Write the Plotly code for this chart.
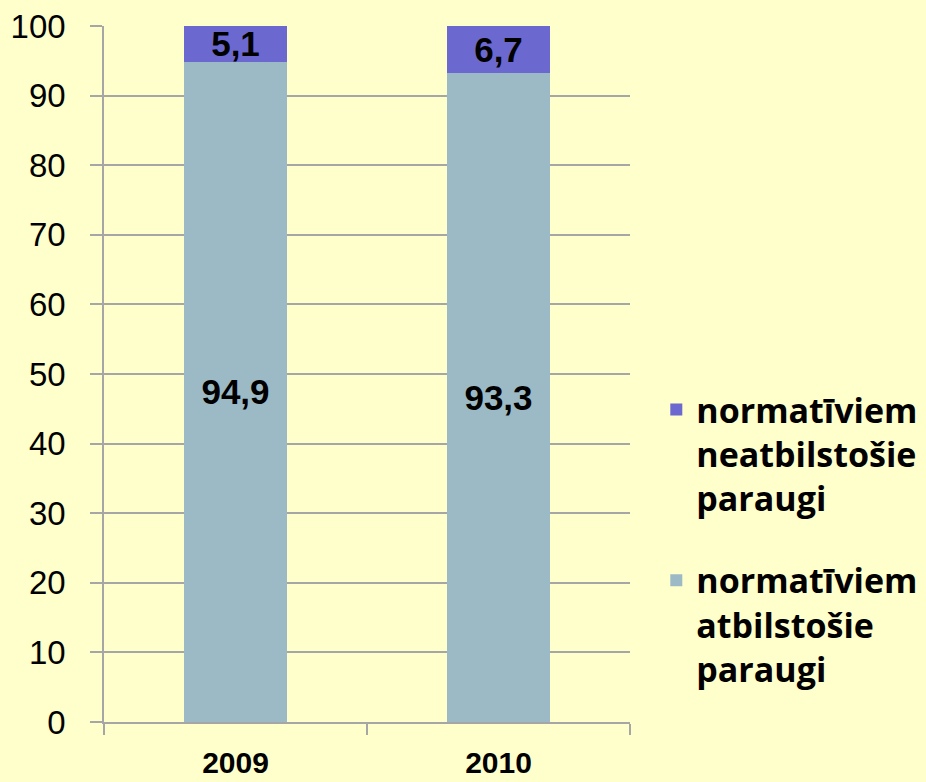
import plotly.graph_objects as go

years = ["2009", "2010"]
atbilstosie = [94.9, 93.3]
neatbilstosie = [5.1, 6.7]
name_atb = "normatīviem<br>atbilstošie<br>paraugi"
name_neatb = "normatīviem<br>neatbilstošie<br>paraugi"
y_ticks = [0, 10, 20, 30, 40, 50, 60, 70, 80, 90, 100]

BG = "#FFFFCC"
GRID = "#A6A6A6"
LABEL_FONT = dict(family="Liberation Sans, Arial", size=35, color="black")

fig = go.Figure()
fig.add_trace(go.Bar(
    x=years, y=atbilstosie, name=name_atb, legendgroup="a", legendrank=2,
    marker=dict(color="#9BBAC5", line=dict(width=0)),
    texttemplate="<b>%{y:.1f}</b>", textposition="inside",
    insidetextanchor="middle", constraintext="none",
    textfont=LABEL_FONT,
))
fig.add_trace(go.Bar(
    x=years, y=neatbilstosie, name=name_neatb, legendgroup="b", legendrank=1,
    marker=dict(color="#6B69D0", line=dict(width=0)),
    texttemplate="<b>%{y:.1f}</b>", textposition="inside",
    insidetextanchor="middle", constraintext="none",
    textfont=LABEL_FONT,
))

fig.update_layout(
    width=926, height=782,
    barmode="stack", bargap=0.605,
    separators=",.",
    paper_bgcolor=BG, plot_bgcolor=BG,
    margin=dict(l=104, r=296, t=26, b=60, autoexpand=False),
    showlegend=True,
    legend=dict(
        x=1.05, y=0.49, xanchor="left", yanchor="top",
        traceorder="grouped", tracegroupgap=35,
        valign="top", bgcolor="rgba(0,0,0,0)",
        font=dict(family="Open Sans", size=34, color="black", weight="bold"),
    ),
    xaxis=dict(
        type="category", tickson="boundaries",
        ticks="outside", ticklen=11, tickcolor=GRID, tickwidth=1.5,
        showline=True, linecolor=GRID, linewidth=1.5,
        showgrid=False,
        ticklabelstandoff=13,
        tickfont=dict(family="Liberation Sans, Arial", size=30, color="black", weight="bold"),
    ),
    yaxis=dict(
        range=[0, 100], tickvals=y_ticks,
        ticks="outside", ticklen=12, tickcolor=GRID, tickwidth=1.5,
        showline=True, linecolor=GRID, linewidth=1.5,
        showgrid=True, gridcolor=GRID, gridwidth=1.5,
        zeroline=False,
        ticklabelstandoff=18,
        tickfont=dict(family="Liberation Sans, Arial", size=33, color="black"),
    ),
)

fig.write_html("out.html", config={"displayModeBar": False},
               post_script="document.body.style.margin='0';")
